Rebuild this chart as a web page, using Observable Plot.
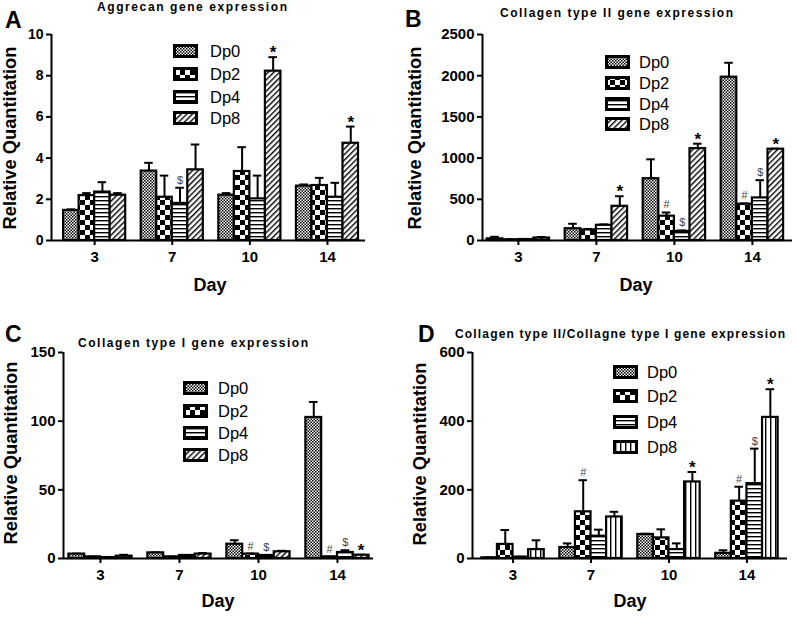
<!DOCTYPE html>
<html>
<head>
<meta charset="utf-8">
<script src="https://cdn.jsdelivr.net/npm/d3@7"></script>
<script src="https://cdn.jsdelivr.net/npm/@observablehq/plot@0.6"></script>
<style>
  body { margin: 0; background: #fff; }
  #root { position: relative; width: 797px; height: 618px; overflow: hidden; background: #fff;
          font-family: Arial, "Liberation Sans", sans-serif; }
  .panel { position: absolute; }
  #overlay { position: absolute; left: 0; top: 0; pointer-events: none; }
</style>
</head>
<body>
<div id="root"></div>
<script>
// ---------------- data ----------------
const days = ["3", "7", "10", "14"];
const groups = ["Dp0", "Dp2", "Dp4", "Dp8"];

// A: Aggrecan gene expression (rows = Dp0, Dp2, Dp4, Dp8; columns = days)
const aggrecanMean = [
  [1.46, 3.37, 2.20, 2.64],
  [2.18, 2.10, 3.35, 2.67],
  [2.35, 1.80, 2.02, 2.10],
  [2.20, 3.43, 8.22, 4.72]
];
const aggrecanSd = [
  [0.05, 0.40, 0.10, 0.08],
  [0.12, 1.05, 1.18, 0.37],
  [0.48, 0.76, 1.13, 0.70],
  [0.10, 1.23, 0.68, 0.81]
];
const aggrecanSig = [["7", "Dp4", "$"], ["10", "Dp8", "*"], ["14", "Dp8", "*"]];

// B: Collagen type II gene expression
const col2Mean = [
  [20, 143, 750, 1982],
  [8, 128, 295, 440],
  [12, 185, 110, 517],
  [30, 415, 1115, 1108]
];
const col2Sd = [
  [25, 60, 235, 175],
  [8, 12, 45, 10],
  [5, 10, 12, 215],
  [12, 122, 60, 6]
];
const col2Sig = [["7", "Dp8", "*"], ["10", "Dp2", "#"], ["10", "Dp4", "$"], ["10", "Dp8", "*"],
                 ["14", "Dp2", "#"], ["14", "Dp4", "$"], ["14", "Dp8", "*"]];

// C: Collagen type I gene expression
const col1Mean = [
  [3.2, 4.1, 10.4, 102.7],
  [1.2, 1.2, 3.2, 1.2],
  [0.7, 2.2, 2.2, 4.4],
  [1.7, 3.2, 4.9, 2.4]
];
const col1Sd = [
  [0.3, 0.3, 2.9, 11.3],
  [0.1, 0.1, 0.4, 0.1],
  [0.1, 0.2, 0.2, 1.6],
  [1.0, 0.8, 0.7, 0.3]
];
const col1Sig = [["10", "Dp2", "#"], ["10", "Dp4", "$"], ["14", "Dp2", "#"], ["14", "Dp4", "$"], ["14", "Dp8", "*"]];

// D: Collagen type II / Collagen type I ratio
const ratioMean = [
  [2, 32, 70, 15],
  [41, 136, 60, 167],
  [4, 65, 26, 218],
  [26, 121, 223, 411]
];
const ratioSd = [
  [1, 12, 2, 9],
  [42, 92, 25, 42],
  [1, 19, 18, 102],
  [27, 15, 29, 82]
];
const ratioSig = [["7", "Dp2", "#"], ["10", "Dp8", "*"], ["14", "Dp2", "#"], ["14", "Dp4", "$"], ["14", "Dp8", "*"]];

const yTicksA = [0, 2, 4, 6, 8, 10];
const yTicksB = [0, 500, 1000, 1500, 2000, 2500];
const yTicksC = [0, 50, 100, 150];
const yTicksD = [0, 200, 400, 600];

const titles = ["Aggrecan gene expression", "Collagen type II gene expression",
                "Collagen type I gene expression", "Collagen type II/Collagne type I gene expression"];
const letters = ["A", "B", "C", "D"];

// ---------------- patterns + overlay ----------------
const root = document.getElementById("root");
const overlay = d3.create("svg").attr("id", "overlay").attr("width", 797).attr("height", 618)
  .attr("font-family", "Arial, 'Liberation Sans', sans-serif");
const defs = overlay.append("defs");
function pat(id, w, h, draw, transform) {
  const p = defs.append("pattern").attr("id", id).attr("patternUnits", "userSpaceOnUse")
    .attr("width", w).attr("height", h);
  if (transform) p.attr("patternTransform", transform);
  p.append("rect").attr("width", w).attr("height", h).attr("fill", "#fff");
  draw(p);
}
pat("pDp0", 3, 3, p => {
  p.append("rect").attr("x", 0).attr("y", 0).attr("width", 1.5).attr("height", 1.5).attr("fill", "#000");
  p.append("rect").attr("x", 1.5).attr("y", 1.5).attr("width", 1.5).attr("height", 1.5).attr("fill", "#000");
});
pat("pDp2", 10, 10, p => {
  p.append("rect").attr("x", 0).attr("y", 0).attr("width", 5).attr("height", 5).attr("fill", "#000");
  p.append("rect").attr("x", 5).attr("y", 5).attr("width", 5).attr("height", 5).attr("fill", "#000");
});
pat("pDp4", 4, 4, p => {
  p.append("rect").attr("x", 0).attr("y", 0).attr("width", 4).attr("height", 1.4).attr("fill", "#000");
});
pat("pDp8", 4, 4, p => {
  p.append("rect").attr("x", 0).attr("y", 0).attr("width", 1.4).attr("height", 4).attr("fill", "#000");
}, "rotate(45)");
pat("pVert", 5, 5, p => {
  p.append("rect").attr("x", 0).attr("y", 0).attr("width", 1.4).attr("height", 5).attr("fill", "#000");
});

const fillsHatch = {Dp0: "url(#pDp0)", Dp2: "url(#pDp2)", Dp4: "url(#pDp4)", Dp8: "url(#pDp8)"};
const fillsVert = {Dp0: "url(#pDp0)", Dp2: "url(#pDp2)", Dp4: "url(#pDp4)", Dp8: "url(#pVert)"};

// ---------------- panels ----------------
const BAR = 0.2; // bar width in day-band units

function buildRows(mean, sd) {
  const rows = [];
  groups.forEach((g, gi) => days.forEach((d, di) => {
    const x1 = di + (gi - 2) * BAR;
    rows.push({day: d, group: g, x1, x2: x1 + BAR, xc: x1 + BAR / 2,
               mean: mean[gi][di], top: mean[gi][di] + sd[gi][di]});
  }));
  return rows;
}

function drawPanel(p) {
  const rows = buildRows(p.mean, p.sd);
  const sig = p.sig.map(([d, g, s]) => ({...rows.find(r => r.day === d && r.group === g), sym: s}));
  const cap = 0.055;
  const svg = Plot.plot({
    width: p.w, height: p.h,
    marginLeft: p.ml, marginRight: p.mr, marginTop: p.mt, marginBottom: p.mb,
    x: {domain: p.xd},
    y: {domain: [0, p.yTicks[p.yTicks.length - 1]]},
    color: {type: "identity"},
    style: {fontFamily: "Arial, 'Liberation Sans', sans-serif", fontSize: "15px", fontWeight: "bold",
            color: "#000", background: "transparent", overflow: "visible"},
    marks: [
      Plot.ruleX(rows, {x: "xc", y1: "mean", y2: "top", stroke: "#000", strokeWidth: 2}),
      Plot.ruleY(rows, {y: "top", x1: r => r.xc - cap, x2: r => r.xc + cap, stroke: "#000", strokeWidth: 2}),
      Plot.rect(rows, {x1: "x1", x2: "x2", y1: 0, y2: "mean", fill: r => p.fills[r.group],
                       stroke: "#000", strokeWidth: 2.2}),
      Plot.axisY({ticks: p.yTicks, tickFormat: d => String(d), tickSize: 5, tickPadding: 3,
                  strokeWidth: 2, label: null, fontSize: p.yfs}),
      Plot.axisX({ticks: [0, 1, 2, 3], tickFormat: i => days[i], tickSize: 5, tickPadding: 6,
                  strokeWidth: 2, label: null, fontSize: 15}),
      Plot.ruleY([0], {stroke: "#000", strokeWidth: 2}),
      Plot.ruleX([p.xd[0]], {stroke: "#000", strokeWidth: 2}),
      Plot.text(sig.filter(s => s.sym === "*"), {x: "xc", y: "top", text: "sym", lineAnchor: "bottom",
                dy: 1, fontSize: 17, fontWeight: "bold", fill: "#000"}),
      Plot.text(sig.filter(s => s.sym !== "*"), {x: "xc", y: "top", text: "sym", lineAnchor: "bottom",
                dy: -4, fontSize: 11, fontWeight: "normal", fill: "#444"})
    ]
  });
  const div = document.createElement("div");
  div.className = "panel";
  div.style.left = p.left + "px";
  div.style.top = p.top + "px";
  div.appendChild(svg);
  root.appendChild(div);
}

drawPanel({left: 0, top: 0, w: 400, h: 300, ml: 51, mr: 35, mt: 34, mb: 60, yfs: 14,
           xd: [-0.556, 3.49], yTicks: yTicksA, mean: aggrecanMean, sd: aggrecanSd, sig: aggrecanSig, fills: fillsHatch});
drawPanel({left: 400, top: 0, w: 397, h: 300, ml: 82, mr: 5, mt: 34, mb: 60, yfs: 15,
           xd: [-0.46, 3.514], yTicks: yTicksB, mean: col2Mean, sd: col2Sd, sig: col2Sig, fills: fillsHatch});
drawPanel({left: 0, top: 300, w: 400, h: 318, ml: 63, mr: 27, mt: 52, mb: 60, yfs: 15,
           xd: [-0.468, 3.456], yTicks: yTicksC, mean: col1Mean, sd: col1Sd, sig: col1Sig, fills: fillsHatch});
drawPanel({left: 400, top: 300, w: 397, h: 318, ml: 72, mr: 10, mt: 52, mb: 60, yfs: 15,
           xd: [-0.52, 3.52], yTicks: yTicksD, mean: ratioMean, sd: ratioSd, sig: ratioSig, fills: fillsVert});

// ---------------- overlay text: titles, letters, axis labels, legends ----------------
const layout = [
  {title: [97, 11, 190], letter: [5, 28], day: [210, 291], ylab: [16, 138],
   legend: {x: 173, tx: 210, rows: [51, 74, 97, 118]}, fills: fillsHatch},
  {title: [500, 17, 233], letter: [405, 27], day: [636, 291], ylab: [421, 138],
   legend: {x: 605, tx: 639, rows: [62, 83, 104, 124]}, fills: fillsHatch},
  {title: [78, 347, 230], letter: [5, 342], day: [218, 607], ylab: [17, 453],
   legend: {x: 183, tx: 218, rows: [388, 411, 433, 455]}, fills: fillsHatch},
  {title: [455, 338, 330], letter: [418, 342], day: [630, 607], ylab: [426, 454],
   legend: {x: 613, tx: 647, rows: [372, 396, 422, 447]}, fills: fillsVert}
];
layout.forEach((L, i) => {
  overlay.append("text").attr("x", L.title[0]).attr("y", L.title[1])
    .attr("textLength", L.title[2]).attr("lengthAdjust", "spacing")
    .attr("font-size", 12).attr("font-weight", "bold").text(titles[i]);
  overlay.append("text").attr("x", L.letter[0]).attr("y", L.letter[1])
    .attr("font-size", 23).attr("font-weight", "bold").text(letters[i]);
  overlay.append("text").attr("x", L.day[0]).attr("y", L.day[1]).attr("text-anchor", "middle")
    .attr("font-size", 18).attr("font-weight", "bold").text("Day");
  overlay.append("text").attr("transform", `translate(${L.ylab[0]},${L.ylab[1]}) rotate(-90)`)
    .attr("text-anchor", "middle").attr("font-size", 18.3).attr("font-weight", "bold")
    .text("Relative Quantitation");
  groups.forEach((g, gi) => {
    const cy = L.legend.rows[gi];
    overlay.append("rect").attr("x", L.legend.x + 1.5).attr("y", cy - 5.5).attr("width", 22).attr("height", 11)
      .attr("fill", L.fills[g]).attr("stroke", "#000").attr("stroke-width", 3);
    overlay.append("text").attr("x", L.legend.tx).attr("y", cy + 6).attr("font-size", 16.5).text(g);
  });
});
root.appendChild(overlay.node());
</script>
</body>
</html>
